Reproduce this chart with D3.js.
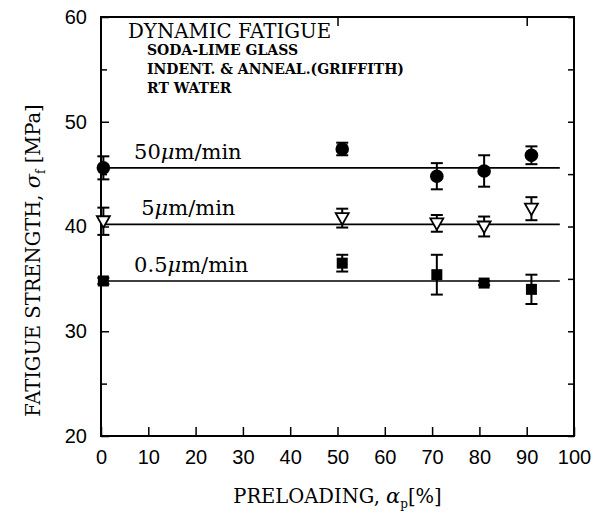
<!DOCTYPE html>
<html>
<head>
<meta charset="utf-8">
<script src="https://cdn.jsdelivr.net/npm/d3@7"></script>
<style>
  body { margin: 0; background: #fff; }
  svg { display: block; }
</style>
</head>
<body>
<div id="chart"></div>
<script>
// values
const preload = [0.5, 51, 71, 81, 91];
const rateLabels = ["50", "5", "0.5"];
const strength50 = [45.6, 47.4, 44.8, 45.3, 46.8];
const error50 = [1.1, 0.6, 1.25, 1.5, 0.85];
const strength5 = [40.5, 40.8, 40.3, 40.0, 41.7];
const error5 = [1.3, 0.9, 0.8, 0.95, 1.1];
const strength05 = [34.8, 36.5, 35.4, 34.6, 34.0];
const error05 = [0.3, 0.8, 1.9, 0.2, 1.4];
const levels = [45.6, 40.2, 34.8];
const levelRange = [0, 97];
const xTicks = [0, 10, 20, 30, 40, 50, 60, 70, 80, 90, 100];
const yTicks = [20, 30, 40, 50, 60];
const yMinorTicks = [25, 35, 45, 55];
const topTicks = [50, 90];
const notes = ["SODA-LIME GLASS", "INDENT. & ANNEAL.(GRIFFITH)", "RT WATER"];

const width = 594, height = 514;
const margin = { top: 17, right: 20, bottom: 78, left: 101 };

const svg = d3.select("#chart").append("svg")
  .attr("width", width)
  .attr("height", height);

const x = d3.scaleLinear().domain([0, 100]).range([margin.left, width - margin.right]);
const y = d3.scaleLinear().domain([20, 60]).range([height - margin.bottom, margin.top]);

const serif = "'DejaVu Serif', serif";
const sans = "'Liberation Sans', Arial, sans-serif";

// axes, ticks point inward
svg.append("g")
  .attr("transform", `translate(0, ${y(20)})`)
  .call(d3.axisBottom(x).tickValues(xTicks).tickSizeInner(-9).tickSizeOuter(0).tickPadding(14));
svg.append("g")
  .attr("transform", `translate(${x(0)}, 0)`)
  .call(d3.axisLeft(y).tickValues(yTicks).tickSizeInner(-8).tickSizeOuter(0).tickPadding(14));
svg.append("g")
  .attr("transform", `translate(${x(0)}, 0)`)
  .call(d3.axisLeft(y).tickValues(yMinorTicks).tickSizeInner(-6).tickSizeOuter(0).tickFormat(""));
svg.append("g")
  .attr("transform", `translate(${x(100)}, 0)`)
  .call(d3.axisRight(y).tickValues(yTicks.concat(yMinorTicks)).tickSizeInner(-6).tickSizeOuter(0).tickFormat(""));
svg.append("g")
  .attr("transform", `translate(0, ${y(60)})`)
  .call(d3.axisTop(x).tickValues(topTicks).tickSizeInner(-9).tickSizeOuter(0).tickFormat(""));

svg.selectAll(".domain").remove();
svg.selectAll(".tick line").attr("stroke", "#000").attr("stroke-width", 1.5);
svg.selectAll(".tick text")
  .attr("font-family", sans)
  .attr("font-size", 20)
  .attr("fill", "#000");

svg.append("rect")
  .attr("x", x(0))
  .attr("y", y(60))
  .attr("width", x(100) - x(0))
  .attr("height", y(20) - y(60))
  .attr("fill", "none")
  .attr("stroke", "#000")
  .attr("stroke-width", 2);

// axis titles
const xTitle = svg.append("text")
  .attr("x", (x(0) + x(100)) / 2)
  .attr("y", 503)
  .attr("text-anchor", "middle")
  .attr("font-family", serif)
  .attr("font-size", 19.5);
xTitle.append("tspan").text("PRELOADING, ");
xTitle.append("tspan").attr("font-style", "italic").attr("font-size", 21).text("α");
xTitle.append("tspan").attr("font-size", 12).attr("dy", 5).text("p");
xTitle.append("tspan").attr("dy", -5).text("[%]");

const yTitle = svg.append("text")
  .attr("transform", `translate(40, ${(y(20) + y(60)) / 2 + 34}) rotate(-90)`)
  .attr("text-anchor", "middle")
  .attr("font-family", serif)
  .attr("font-size", 19.5);
yTitle.append("tspan").text("FATIGUE STRENGTH, ");
yTitle.append("tspan").attr("font-style", "italic").attr("font-size", 21).text("σ");
yTitle.append("tspan").attr("font-size", 12).attr("dy", 5).text("f");
yTitle.append("tspan").attr("dy", -5).text(" [MPa]");

// annotation block
svg.append("text")
  .attr("x", 128)
  .attr("y", 38)
  .attr("font-family", serif)
  .attr("font-size", 19.8)
  .text("DYNAMIC FATIGUE");
svg.selectAll(".note")
  .data(notes)
  .enter()
  .append("text")
  .attr("class", "note")
  .attr("x", 147)
  .attr("y", (d, i) => 55 + i * 19)
  .attr("font-family", serif)
  .attr("font-weight", "bold")
  .attr("font-size", 14)
  .text((d) => d);

// fitted levels
svg.append("g")
  .selectAll("line")
  .data(levels)
  .enter()
  .append("line")
  .attr("x1", x(levelRange[0]))
  .attr("x2", x(levelRange[1]))
  .attr("y1", (d) => y(d))
  .attr("y2", (d) => y(d))
  .attr("stroke", "#000")
  .attr("stroke-width", 1.6);

const rateText = svg.append("g")
  .selectAll("text")
  .data(rateLabels)
  .enter()
  .append("text")
  .attr("x", (d, i) => x(i === 1 ? 8.5 : 7))
  .attr("y", (d, i) => y(levels[i]) - 9)
  .attr("font-family", serif)
  .attr("font-size", 21);
rateText.append("tspan").text((d) => d);
rateText.append("tspan").attr("font-style", "italic").text("μ");
rateText.append("tspan").text("m/min");

// series
const series = [
  { values: strength50, errors: error50, shape: "circle" },
  { values: strength5, errors: error5, shape: "triangle" },
  { values: strength05, errors: error05, shape: "square" },
];

series.forEach((s) => {
  const pts = preload.map((p, i) => ({ p: p, v: s.values[i], e: s.errors[i] }));
  const g = svg.append("g");

  const bars = g.selectAll(".err").data(pts).enter().append("g").attr("class", "err")
    .attr("stroke", "#000").attr("stroke-width", 2);
  bars.append("line")
    .attr("x1", (d) => x(d.p)).attr("x2", (d) => x(d.p))
    .attr("y1", (d) => y(d.v - d.e)).attr("y2", (d) => y(d.v + d.e));
  bars.append("line")
    .attr("x1", (d) => x(d.p) - 6).attr("x2", (d) => x(d.p) + 6)
    .attr("y1", (d) => y(d.v - d.e)).attr("y2", (d) => y(d.v - d.e));
  bars.append("line")
    .attr("x1", (d) => x(d.p) - 6).attr("x2", (d) => x(d.p) + 6)
    .attr("y1", (d) => y(d.v + d.e)).attr("y2", (d) => y(d.v + d.e));

  if (s.shape === "circle") {
    g.selectAll("circle").data(pts).enter().append("circle")
      .attr("cx", (d) => x(d.p)).attr("cy", (d) => y(d.v))
      .attr("r", 6.8).attr("fill", "#000");
  } else if (s.shape === "square") {
    g.selectAll("rect").data(pts).enter().append("rect")
      .attr("x", (d) => x(d.p) - 5.5).attr("y", (d) => y(d.v) - 5.5)
      .attr("width", 11).attr("height", 11).attr("fill", "#000");
  } else {
    g.selectAll("path").data(pts).enter().append("path")
      .attr("d", (d) => {
        const cx = x(d.p), cy = y(d.v);
        return `M${cx - 6.5},${cy - 5} L${cx + 6.5},${cy - 5} L${cx},${cy + 6.5} Z`;
      })
      .attr("fill", "#fff").attr("stroke", "#000").attr("stroke-width", 1.8);
  }
});
</script>
</body>
</html>
